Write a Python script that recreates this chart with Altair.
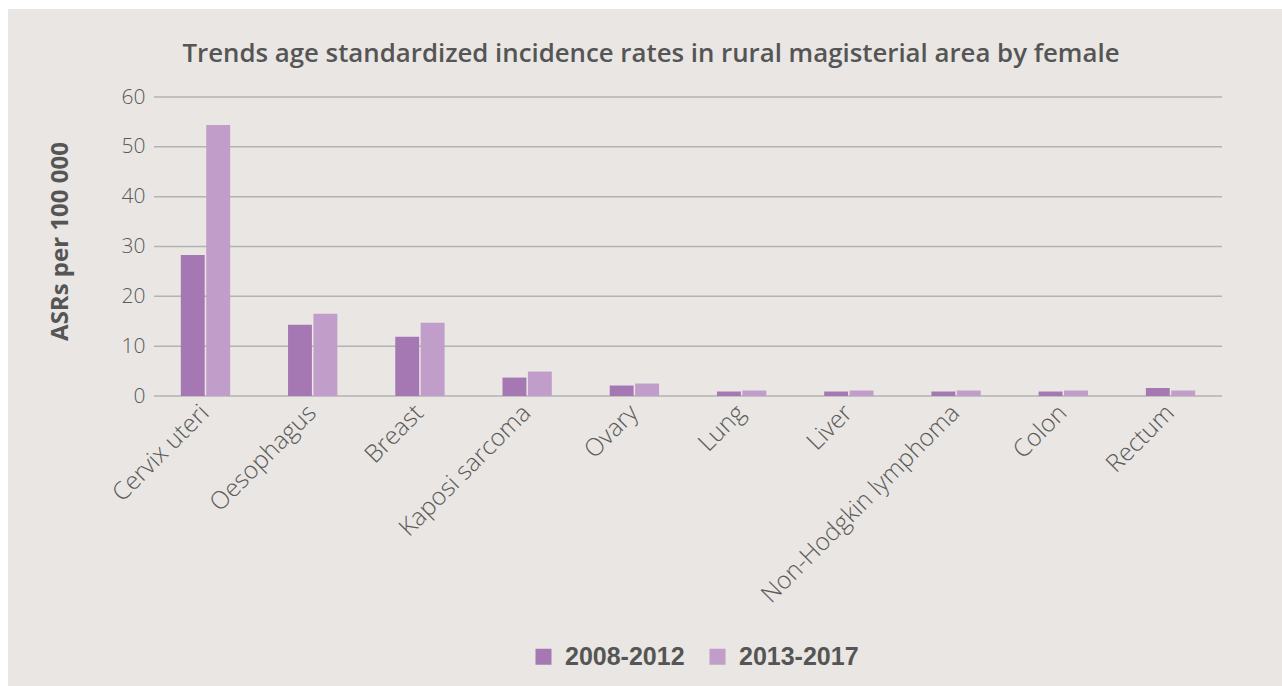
import altair as alt
import pandas as pd

categories = ["Cervix uteri", "Oesophagus", "Breast", "Kaposi sarcoma", "Ovary",
              "Lung", "Liver", "Non-Hodgkin lymphoma", "Colon", "Rectum"]
periods = ["2008-2012", "2013-2017"]
values_2008_2012 = [28.3, 14.3, 11.9, 3.7, 2.1, 0.9, 0.9, 0.9, 0.9, 1.6]
values_2013_2017 = [54.4, 16.5, 14.7, 4.9, 2.5, 1.1, 1.1, 1.1, 1.1, 1.1]
y_ticks = [0, 10, 20, 30, 40, 50, 60]
title_text = "Trends age standardized incidence rates in rural magisterial area by female"
y_title = "ASRs per 100 000"

rows = []
for c, a, b in zip(categories, values_2008_2012, values_2013_2017):
    rows.append({"cat": c, "period": periods[0], "value": a})
    rows.append({"cat": c, "period": periods[1], "value": b})
df = pd.DataFrame(rows)
ticks_df = pd.DataFrame({"v": y_ticks})
one = pd.DataFrame({"a": [0]})

BG = "#E9E6E3"
W, H = 1068, 299
X0, Y0 = 154, 97

bg = alt.Chart(one).mark_rect(fill=BG).encode(
    x=alt.value(8 - X0), x2=alt.value(1282 - X0),
    y=alt.value(9 - Y0), y2=alt.value(686 - Y0),
)

title = alt.Chart(one).mark_text(
    font="Open Sans", fontSize=25.8, fontWeight=600, color="#555555",
    align="center", baseline="middle",
).encode(x=alt.value(651 - X0), y=alt.value(54 - Y0), text=alt.value(title_text))

yscale = alt.Scale(domain=[0, 60])
yaxis = alt.Axis(title=y_title, values=y_ticks, grid=False, ticks=False,
                 domain=False, labelFont="Open Sans", labelFontWeight=300,
                 labelFontSize=21, labelColor="#5A5A5A", labelPadding=9,
                 titleFont="Open Sans", titleFontSize=24, titleFontWeight="bold",
                 titleColor="#555555", titlePadding=49, titleY=144, zindex=1)

grid = alt.Chart(ticks_df).mark_rule(color="#B3B3B3", strokeWidth=1.5).encode(
    y=alt.Y("v:Q", scale=yscale, axis=yaxis),
)

bars = alt.Chart(df).mark_bar().encode(
    x=alt.X("cat:N", sort=categories,
            scale=alt.Scale(paddingInner=0.54, paddingOuter=0.25),
            axis=alt.Axis(title=None, labelAngle=-45, labelFont="Open Sans",
                          labelFontWeight=300, labelFontSize=24.5, labelColor="#5A5A5A",
                          labelAlign="right", labelBaseline="middle",
                          labelPadding=13, ticks=False, domain=False, grid=False,
                          zindex=1, labelLimit=400)),
    xOffset=alt.XOffset("period:N", sort=periods, scale=alt.Scale(paddingInner=0.06)),
    y=alt.Y("value:Q", scale=yscale, axis=yaxis),
    color=alt.Color("period:N", sort=periods,
                    scale=alt.Scale(domain=periods, range=["#A678B3", "#C19DC9"]),
                    legend=alt.Legend(title=None, orient="none", direction="horizontal",
                                      legendX=531 - X0, legendY=644 - Y0,
                                      symbolType="square", symbolSize=256,
                                      symbolStrokeWidth=0, labelFont="Liberation Sans",
                                      labelFontSize=25, labelFontWeight="bold",
                                      labelColor="#555555", labelOffset=9,
                                      columnPadding=20, padding=0)),
)

chart = alt.layer(bg, title, grid, bars).properties(
    width=W, height=H, padding={"left": 8, "top": 9, "right": 0, "bottom": 0},
    background="white",
).configure_view(stroke=None)

chart.save("out.html", embed_options={"renderer": "svg", "actions": False})
